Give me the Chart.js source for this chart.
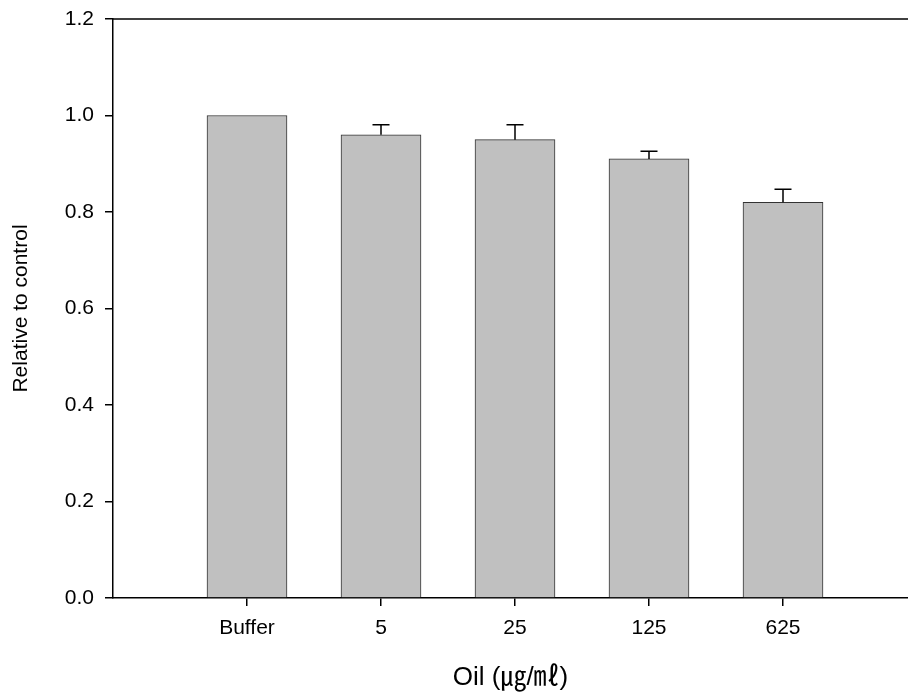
<!DOCTYPE html>
<html>
<head>
<meta charset="utf-8">
<script src="https://cdn.jsdelivr.net/npm/chart.js@4.4.0/dist/chart.umd.min.js"></script>
<style>
  body { margin: 0; background: #fff; }
  #wrap { width: 908px; height: 693px; }
</style>
</head>
<body>
<div id="wrap"><canvas id="oil-chart" width="908" height="693"></canvas></div>
<script>
// data
const categories = ['Buffer', '5', '25', '125', '625'];
const positions = [1, 2, 3, 4, 5];
const values = [1.0, 0.96, 0.95, 0.91, 0.82];
const errors = [0, 0.021, 0.031, 0.016, 0.027];
const yTicks = [0, 0.2, 0.4, 0.6, 0.8, 1.0, 1.2];

const FONT = "'Liberation Sans', Arial, 'Noto Sans CJK KR', sans-serif";

// top frame line
const topLine = {
    id: 'topLine',
    afterDraw(chart) {
        const { ctx, chartArea } = chart;
        ctx.save();
        ctx.strokeStyle = '#000';
        ctx.lineWidth = 1.5;
        ctx.beginPath();
        ctx.moveTo(chartArea.left, chartArea.top);
        ctx.lineTo(chartArea.right, chartArea.top);
        ctx.stroke();
        ctx.restore();
    }
};

// upper error bars
const errorBars = {
    id: 'errorBars',
    afterDatasetsDraw(chart) {
        const { ctx } = chart;
        const x = chart.scales.x, y = chart.scales.y;
        ctx.save();
        ctx.strokeStyle = '#000';
        ctx.lineWidth = 1.5;
        values.forEach(function(v, i) {
            if (!errors[i]) return;
            const px = x.getPixelForValue(positions[i]);
            const y0 = y.getPixelForValue(v);
            const y1 = y.getPixelForValue(v + errors[i]);
            ctx.beginPath();
            ctx.moveTo(px, y0);
            ctx.lineTo(px, y1);
            ctx.moveTo(px - 8.5, y1);
            ctx.lineTo(px + 8.5, y1);
            ctx.stroke();
        });
        ctx.restore();
    }
};

const ctx = document.getElementById('oil-chart').getContext('2d');
new Chart(ctx, {
    type: 'bar',
    data: {
        datasets: [{
            data: positions.map((p, i) => ({ x: p, y: values[i] })),
            backgroundColor: '#c0c0c0',
            borderColor: '#333',
            borderWidth: 1,
            barThickness: 80
        }]
    },
    options: {
        responsive: false,
        animation: false,
        layout: { padding: { top: 19, right: 0, left: 0, bottom: 0 } },
        plugins: { legend: { display: false }, tooltip: { enabled: false } },
        scales: {
            x: {
                type: 'linear',
                offset: false,
                min: 0,
                max: 795 / 134,
                afterBuildTicks(axis) {
                    axis.ticks = positions.map(p => ({ value: p }));
                },
                afterFit(scale) { scale.height = 95; },
                ticks: {
                    autoSkip: false,
                    maxRotation: 0,
                    padding: 10,
                    color: '#000',
                    font: { family: FONT, size: 21 },
                    callback: function(v) { return categories[v - 1]; }
                },
                grid: { offset: false, drawOnChartArea: false, drawTicks: true, tickLength: 8, color: '#000', lineWidth: 1.5 },
                border: { color: '#000', width: 1.5 },
                title: {
                    display: true,
                    text: 'Oil (㎍/㎖)',
                    color: '#000',
                    font: { family: FONT, size: 26 },
                    padding: { top: 0, bottom: 0 }
                }
            },
            y: {
                min: 0,
                max: 1.2,
                afterBuildTicks(axis) {
                    axis.ticks = yTicks.map(v => ({ value: v }));
                },
                afterFit(scale) {
                    scale.width = 113;
                    scale.paddingTop = 0;
                    scale.paddingBottom = 0;
                },
                ticks: {
                    padding: 11,
                    color: '#000',
                    font: { family: FONT, size: 21 },
                    callback: function(v) { return Number(v).toFixed(1); }
                },
                grid: { drawOnChartArea: false, drawTicks: true, tickLength: 8, color: '#000', lineWidth: 1.5 },
                border: { color: '#000', width: 1.5 },
                title: {
                    display: true,
                    text: 'Relative to control',
                    color: '#000',
                    font: { family: FONT, size: 21 },
                    padding: { top: 9, bottom: 0 }
                }
            }
        }
    },
    plugins: [topLine, errorBars]
});
</script>
</body>
</html>
